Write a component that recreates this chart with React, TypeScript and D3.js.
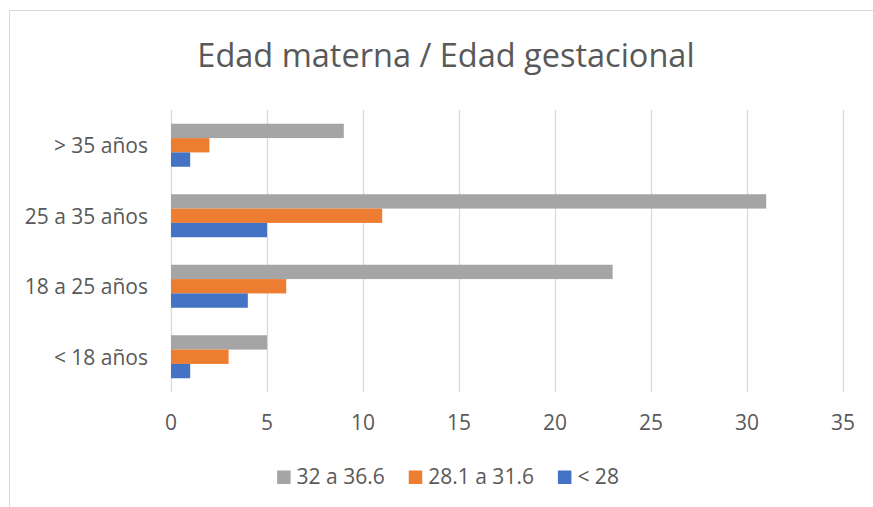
import React, { useEffect, useRef } from "react";
import * as d3 from "d3";

const categories = ["> 35 años", "25 a 35 años", "18 a 25 años", "< 18 años"];
const seriesNames = ["32 a 36.6", "28.1 a 31.6", "< 28"];
const seriesColors = ["#A5A5A5", "#ED7D31", "#4472C4"];
// values per series, in category order
const gestA = [9, 31, 23, 5]; // 32 a 36.6
const gestB = [2, 11, 6, 3]; // 28.1 a 31.6
const gestC = [1, 5, 4, 1]; // < 28
const xTicks = [0, 5, 10, 15, 20, 25, 30, 35];

const W = 873;
const H = 507;
const FONT = "'Open Sans', sans-serif";
const TEXT = "#595959";

export default function App() {
  const ref = useRef<SVGSVGElement>(null);

  useEffect(() => {
    const svg = d3.select(ref.current);
    svg.selectAll("*").remove();

    const values = [gestA, gestB, gestC];

    // chart frame (extends past the picture on the right/bottom)
    svg
      .append("rect")
      .attr("x", 9.5)
      .attr("y", 10.5)
      .attr("width", W + 20)
      .attr("height", H + 20)
      .attr("fill", "#fff")
      .attr("stroke", "#d9d9d9")
      .attr("stroke-width", 1);

    svg
      .append("text")
      .attr("x", 446)
      .attr("y", 67)
      .attr("text-anchor", "middle")
      .attr("font-family", FONT)
      .attr("font-size", 32.5)
      .attr("fill", TEXT)
      .text("Edad materna / Edad gestacional");

    const x = d3.scaleLinear().domain([0, 35]).range([171, 843]);
    const y = d3
      .scaleBand<string>()
      .domain(categories)
      .range([110, 392])
      .paddingInner(0.39)
      .paddingOuter(0.195);
    const ySub = d3
      .scaleBand<number>()
      .domain([0, 1, 2])
      .range([0, y.bandwidth()]);

    // gridlines
    svg
      .append("g")
      .selectAll("line")
      .data(xTicks)
      .join("line")
      .attr("x1", (d) => Math.round(x(d)) + 0.5)
      .attr("x2", (d) => Math.round(x(d)) + 0.5)
      .attr("y1", 110)
      .attr("y2", 392)
      .attr("stroke", "#d9d9d9")
      .attr("stroke-width", 1.3);

    // bars
    const groups = svg
      .append("g")
      .selectAll("g")
      .data(categories)
      .join("g")
      .attr("transform", (d) => `translate(0,${y(d)})`);

    groups
      .selectAll("rect")
      .data((_, ci) => values.map((s, si) => ({ si, v: s[ci] })))
      .join("rect")
      .attr("x", x(0))
      .attr("y", (d) => ySub(d.si)!)
      .attr("width", (d) => x(d.v) - x(0))
      .attr("height", ySub.bandwidth())
      .attr("fill", (d) => seriesColors[d.si]);

    // category labels
    svg
      .append("g")
      .selectAll("text")
      .data(categories)
      .join("text")
      .attr("x", 148)
      .attr("y", (d) => y(d)! + y.bandwidth() / 2 + 8)
      .attr("text-anchor", "end")
      .attr("font-family", FONT)
      .attr("font-size", 21)
      .attr("fill", TEXT)
      .text((d) => d);

    // x tick labels
    svg
      .append("g")
      .selectAll("text")
      .data(xTicks)
      .join("text")
      .attr("x", (d) => x(d))
      .attr("y", 430)
      .attr("text-anchor", "middle")
      .attr("font-family", FONT)
      .attr("font-size", 21)
      .attr("fill", TEXT)
      .text((d) => String(d));

    // legend
    const legend = svg.append("g");
    let cx = 0;
    seriesNames.forEach((name, i) => {
      const item = legend.append("g").attr("transform", `translate(${cx},0)`);
      item
        .append("rect")
        .attr("x", 0)
        .attr("y", 470.5)
        .attr("width", 13.5)
        .attr("height", 13.5)
        .attr("fill", seriesColors[i]);
      const t = item
        .append("text")
        .attr("x", 19.5)
        .attr("y", 484)
        .attr("font-family", FONT)
        .attr("font-size", 21)
        .attr("fill", TEXT)
        .text(name);
      const tw = (t.node() as SVGTextElement).getComputedTextLength();
      cx += 19.5 + tw + 24;
    });
    const total = cx - 24;
    legend.attr("transform", `translate(${448 - total / 2},0)`);
  }, []);

  return (
    <div style={{ position: "absolute", left: 0, top: 0 }}>
      <svg ref={ref} width={W} height={H} style={{ display: "block" }} />
    </div>
  );
}
